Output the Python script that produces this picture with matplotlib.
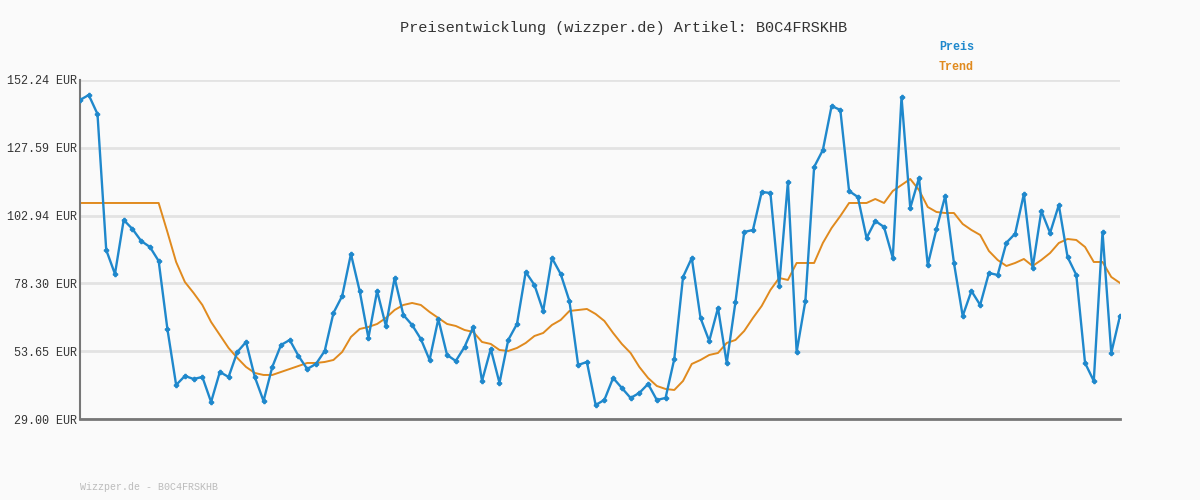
import matplotlib
matplotlib.use("Agg")
import matplotlib.pyplot as plt

preis = [144.97,146.79,139.88,90.45,81.72,101.35,98.08,93.72,91.54,86.45,
61.73,41.37,44.64,43.55,44.28,35.19,46.10,44.28,53.37,57.00,
44.28,35.56,47.92,55.91,57.73,51.91,47.19,49.01,53.73,67.55,
73.72,88.99,75.54,58.46,75.54,62.82,80.27,66.82,63.18,58.09,
50.46,65.36,52.28,50.10,55.19,62.46,42.83,54.46,42.10,57.73,
63.55,82.45,77.72,68.27,87.54,81.72,71.91,48.64,49.73,34.10,
35.92,43.92,40.28,36.65,38.47,41.74,35.92,36.65,50.82,80.63,
87.54,65.73,57.36,69.36,49.37,71.54,96.99,97.72,111.53,111.17,
77.36,115.16,53.37,71.91,120.61,126.79,142.79,141.34,111.89,109.71,
94.81,100.99,98.81,87.54,146.06,105.71,116.62,85.00,98.08,110.08,
85.72,66.46,75.54,70.45,82.08,81.36,93.09,96.36,110.80,83.90,
104.62,96.63,106.80,87.90,81.36,49.37,42.83,96.99,53.01,66.46]

trend = [107.53]*10 + [96.99,86.08,78.81,74.81,70.45,64.27,59.55,54.82,51.19,47.92,
45.73,45.01,45.01,46.10,47.19,48.28,49.37,49.37,49.73,50.46,
53.37,58.82,61.73,62.46,63.55,65.73,68.63,70.45,71.18,70.45,
67.91,65.73,63.55,62.82,61.36,60.64,57.00,56.28,54.09,53.73,
54.82,56.64,59.18,60.27,63.18,65.00,68.27,68.63,69.00,67.18,
64.64,60.27,56.28,53.00,47.92,43.92,41.01,39.92,39.55,42.83,
49.01,50.46,52.28,53.00,56.64,57.73,61.00,65.73,70.09,75.90,
80.27,79.54,85.72,85.72,85.72,92.99,98.44,102.80,107.53,107.53,
107.53,108.98,107.53,111.89,114.07,116.25,112.25,106.08,104.26,103.89,
103.89,99.90,97.71,95.90,90.08,86.81,84.63,85.72,87.17,84.63,
86.81,89.35,92.99,94.44,94.08,91.54,86.08,86.08,80.63,78.45]

yticks = [29.00, 53.65, 78.30, 102.94, 127.59, 152.24]
ytick_labels = ["29.00 EUR", "53.65 EUR", "78.30 EUR", "102.94 EUR", "127.59 EUR", "152.24 EUR"]

plt.rcParams['font.family'] = ['Liberation Mono', 'DejaVu Sans Mono']
fig = plt.figure(figsize=(12, 5), dpi=100, facecolor='#fafafa')
ax = fig.add_axes([80/1200, 81/500, 1040/1200, 339/500], facecolor='#fafafa')
x = list(range(len(preis)))
ax.plot(x, trend, color='#e08a1e', lw=1.4, zorder=2)
ax.plot(x, preis, color='#1f88cc', lw=1.7, marker='P', ms=3, zorder=3)
ax.set_xlim(0, len(preis) - 1)
ax.set_ylim(29.0, 152.24)
ax.set_yticks(yticks)
ax.set_yticklabels(ytick_labels, fontsize=8.5, color='#333333')
ax.set_xticks([])
ax.tick_params(axis='y', length=0, pad=2)
ax.grid(axis='y', color='#e3e3e3', lw=2)
ax.set_axisbelow(True)
for s in ['top', 'right']:
    ax.spines[s].set_visible(False)
ax.spines['left'].set_color('#777777')
ax.spines['left'].set_linewidth(1.5)
ax.spines['bottom'].set_color('#777777')
ax.spines['bottom'].set_linewidth(2)

fig.text(0.52, 1 - 28/500, "Preisentwicklung (wizzper.de) Artikel: B0C4FRSKHB",
         ha='center', va='center', fontsize=11, color='#333333')
fig.text(939/1200, 1 - 47/500, "Preis", ha='left', va='center', fontsize=8.5,
         color='#1f88cc', fontweight='bold')
fig.text(939/1200, 1 - 67/500, "Trend", ha='left', va='center', fontsize=8.5,
         color='#e08a1e', fontweight='bold')
fig.text(80/1200, 1 - 487/500, "Wizzper.de - B0C4FRSKHB", ha='left', va='center',
         fontsize=7.2, color='#bbbbbb')
fig.savefig("out.png", dpi=100, facecolor='#fafafa')
